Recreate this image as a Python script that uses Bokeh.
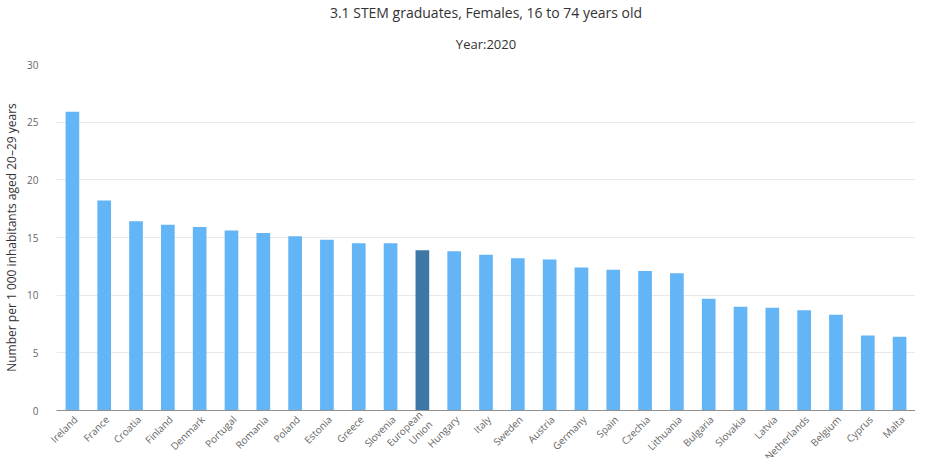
import math
from bokeh.plotting import figure
from bokeh.models import Title, ColumnDataSource, FixedTicker
from bokeh.embed import file_html
from bokeh.resources import INLINE
from bokeh.core.properties import value

countries = ["Ireland", "France", "Croatia", "Finland", "Denmark", "Portugal",
             "Romania", "Poland", "Estonia", "Greece", "Slovenia", "European Union",
             "Hungary", "Italy", "Sweden", "Austria", "Germany", "Spain", "Czechia",
             "Lithuania", "Bulgaria", "Slovakia", "Latvia", "Netherlands", "Belgium",
             "Cyprus", "Malta"]
values = [25.9, 18.2, 16.4, 16.1, 15.9, 15.6, 15.4, 15.1, 14.8, 14.5, 14.5, 13.9,
          13.8, 13.5, 13.2, 13.1, 12.4, 12.2, 12.1, 11.9, 9.7, 9.0, 8.9, 8.7, 8.3,
          6.5, 6.4]
y_ticks = [0, 5, 10, 15, 20, 25, 30]

BAR = "#64b5f6"
EU = "#3d77a6"
colors = [EU if c == "European Union" else BAR for c in countries]
# long label wrapped so that it stays inside the page
display = [c.replace("European Union", "European\nUnion") for c in countries]

src = ColumnDataSource(dict(x=countries, top=values, color=colors,
                            label=display, base=[0] * len(countries)))

p = figure(width=915, height=458, x_range=countries, y_range=(0, 30),
           output_backend="svg", toolbar_location=None, title=None,
           min_border_left=0, min_border_right=0, min_border_top=3,
           min_border_bottom=48)
p.outline_line_color = None
p.background_fill_color = "white"
p.border_fill_color = "white"

p.vbar(x="x", top="top", width=0.43, color="color", source=src, line_color=None)

font = "'Open Sans', 'DejaVu Sans', sans-serif"

sub = Title(text="Year:2020", align="center", text_font=font,
            text_font_size="13px", text_font_style="normal", text_color="#333333",
            offset=0, standoff=23)
main = Title(text="3.1 STEM graduates, Females, 16 to 74 years old", align="center",
             text_font=font, text_font_size="14px", text_font_style="normal",
             text_color="#333333", standoff=0)
p.add_layout(sub, "above")
p.add_layout(main, "above")

p.yaxis.ticker = FixedTicker(ticks=y_ticks)
p.yaxis.axis_line_color = None
p.yaxis.major_tick_line_color = None
p.yaxis.minor_tick_line_color = None
p.yaxis.major_label_text_font = font
p.yaxis.major_label_text_font_size = "10px"
p.yaxis.major_label_text_color = "#666666"
p.yaxis.major_label_standoff = 12
p.yaxis.axis_label = "Number per 1 000 inhabitants aged 20–29 years"
p.yaxis.axis_label_text_font = font
p.yaxis.axis_label_text_font_size = "12px"
p.yaxis.axis_label_text_font_style = "normal"
p.yaxis.axis_label_text_color = "#333333"
p.yaxis.axis_label_standoff = 4

p.xaxis.axis_line_color = "#8f8f8f"
p.xaxis.major_tick_line_color = None
p.xaxis.minor_tick_line_color = None
p.xaxis.major_label_text_font_size = "0px"
p.xaxis.major_label_text_color = None
p.xaxis.major_label_standoff = 0

p.text(x="x", y="base", text="label", source=src, angle=math.pi / 4,
       text_align="right", text_baseline="middle", x_offset=3, y_offset=7,
       text_font=value(font), text_font_size="10px", text_color="#666666",
       text_line_height=1.0, level="overlay")

p.xgrid.grid_line_color = None
p.ygrid.grid_line_color = "#e9e9e9"

open("out.html", "w").write(file_html(p, INLINE))
